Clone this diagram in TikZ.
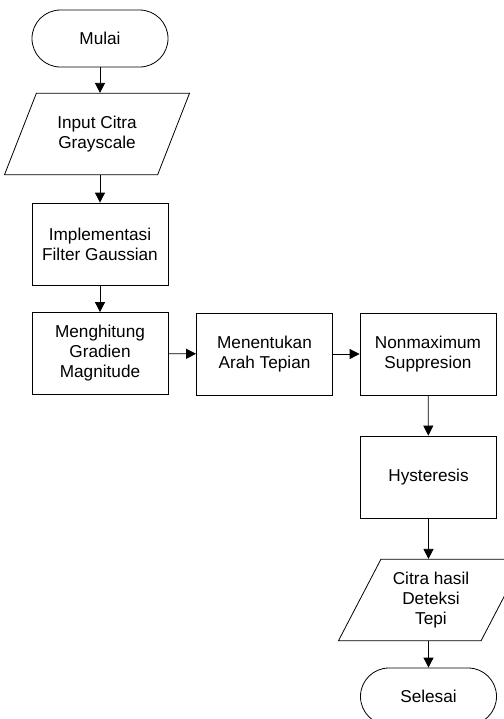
\documentclass[tikz,border=0pt]{standalone}
\usepackage{fontspec}
\setmainfont{Liberation Sans}
\usetikzlibrary{shapes.geometric,arrows.meta}
\begin{document}
\begin{tikzpicture}[x=0.75pt,y=-0.75pt,
  every node/.style={font=\fontsize{12.9}{15}\selectfont, align=center, inner sep=0pt},
  proc/.style={draw, line width=0.6pt, minimum width=102pt, minimum height=61.5pt},
  term/.style={draw, line width=0.6pt, minimum width=102pt, minimum height=42.75pt, rounded corners=21.3pt},
  io/.style={draw, line width=0.6pt, trapezium, trapezium left angle=60, trapezium right angle=120,
    trapezium stretches=true, minimum width=139pt, minimum height=61pt},
  flow/.style={line width=0.6pt, -{Triangle[length=7.5pt,width=7.5pt]}}]
\useasboundingbox (0,0) rectangle (504,719);
\clip (0,0) rectangle (504,719);
\node[term] (mulai) at (100,38.5) {Mulai};
\node[io] (input) at (97,134) {Input Citra\\Grayscale};
\node[proc] (impl) at (100,244) {Implementasi\\Filter Gaussian};
\node[proc] (grad) at (100,353.5) {Menghitung\\Gradien\\Magnitude};
\node[proc] (arah) at (264.5,354) {Menentukan\\Arah Tepian};
\node[proc] (nonmax) at (428,354) {Nonmaximum\\Suppresion};
\node[proc] (hyst) at (428.5,477) {Hysteresis};
\node[io] (output) at (431,600) {Citra hasil\\Deteksi\\Tepi};
\node[term] (selesai) at (428.5,696.5) {Selesai};
\draw[flow] (mulai.south) -- (mulai.south |- input.north);
\draw[flow] (mulai.south |- input.south) -- (impl.north);
\draw[flow] (impl) -- (grad);
\draw[flow] (grad) -- (arah);
\draw[flow] (arah) -- (nonmax);
\draw[flow] (nonmax) -- (hyst);
\draw[flow] (hyst.south) -- (hyst.south |- output.north);
\draw[flow] (hyst.south |- output.south) -- (selesai.north);
\end{tikzpicture}
\end{document}
